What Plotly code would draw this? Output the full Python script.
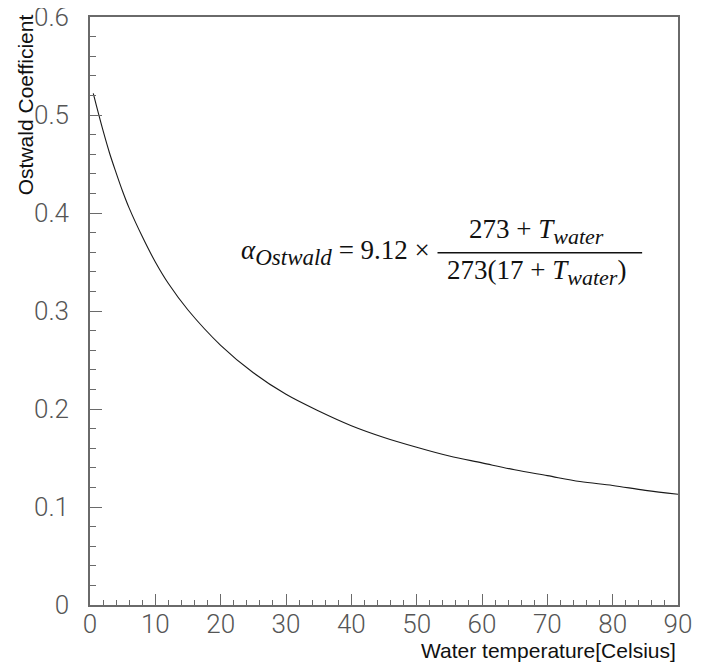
import plotly.graph_objects as go

# Water temperature [Celsius] and Ostwald coefficient
temperature = [0.5, 1, 2, 3, 4, 5, 6, 8, 10, 12, 15, 20, 25, 30, 35, 40, 45,
               50, 55, 60, 65, 70, 75, 80, 85, 90]
ostwald = [0.522, 0.509, 0.484, 0.461, 0.441, 0.422, 0.405, 0.376, 0.350,
           0.328, 0.301, 0.265, 0.237, 0.215, 0.198, 0.183, 0.171, 0.161,
           0.152, 0.145, 0.138, 0.132, 0.126, 0.122, 0.117, 0.113]

x_ticks = [0, 10, 20, 30, 40, 50, 60, 70, 80, 90]
y_ticks = [0, 0.1, 0.2, 0.3, 0.4, 0.5, 0.6]
y_labels = ["0", "0.1", "0.2", "0.3", "0.4", "0.5", "0.6"]

fig = go.Figure()
fig.add_trace(go.Scatter(x=temperature, y=ostwald, mode="lines",
                         line=dict(color="#1a1a1a", width=1.1, shape="spline"),
                         showlegend=False, hoverinfo="skip"))

tickfont = dict(family="Roboto", size=26, color="#555555", weight=300)
axis_common = dict(showline=True, linecolor="#6a6a6a", linewidth=1.5,
                   mirror=True, showgrid=False, zeroline=False,
                   ticks="inside", tickcolor="#6a6a6a", tickwidth=1.2,
                   tickfont=tickfont, automargin=False,
                   ticklabeloverflow="allow")

fig.update_xaxes(range=[0, 90], tickvals=x_ticks, ticklen=11,
                 ticklabelstandoff=-5,
                 minor=dict(dtick=2, ticks="inside", ticklen=5,
                            tickcolor="#6a6a6a", tickwidth=1.2),
                 **axis_common)
fig.update_yaxes(range=[0, 0.6], tickvals=y_ticks, ticktext=y_labels,
                 ticklen=12, ticklabelstandoff=14,
                 minor=dict(dtick=0.02, ticks="inside", ticklen=6,
                            tickcolor="#6a6a6a", tickwidth=1.2),
                 **axis_common)

serif_left = dict(family="Liberation Serif", size=27, color="#111111")
serif_frac = dict(family="Liberation Serif", size=27, color="#111111")
sans_title = dict(family="Liberation Sans", size=21, color="#111111")
sans_xtitle = dict(family="Liberation Sans", size=21, color="#111111")

annotations = [
    dict(text="<i>α</i><sub><i><span style='font-size:23px'>Ostwald</span></i></sub> = 9.12 ×",
         x=0.5816, y=0.600, xref="paper", yref="paper", xanchor="right",
         yanchor="middle", showarrow=False, font=serif_left),
    dict(text="273 + <i>T</i><sub><i><span style='font-size:22px'>water</span></i></sub>",
         x=0.760, y=0.635, xref="paper", yref="paper", xanchor="center",
         yanchor="middle", showarrow=False, font=serif_frac),
    dict(text="273(17 + <i>T</i><sub><i><span style='font-size:22px'>water</span></i></sub>)",
         x=0.760, y=0.566, xref="paper", yref="paper", xanchor="center",
         yanchor="middle", showarrow=False, font=serif_frac),
    dict(text="Ostwald Coefficient", x=-0.1105, y=0.850, xref="paper",
         yref="paper", xanchor="center", yanchor="middle", textangle=-90,
         showarrow=False, font=sans_title),
    dict(text="Water temperature[Celsius]", x=1.0, y=-0.078, xref="paper",
         yref="paper", xanchor="right", yanchor="middle",
         showarrow=False, font=sans_xtitle),
]

# the page body adds an 8 px margin, so the figure is 8 px smaller
fig.update_layout(
    width=696, height=656,
    margin=dict(l=82, r=26, t=9, b=59),
    paper_bgcolor="white", plot_bgcolor="white",
    annotations=annotations,
    shapes=[dict(type="line", xref="paper", yref="paper", x0=0.591, x1=0.939,
                 y0=0.599, y1=0.599, line=dict(color="#111111", width=1.5))],
)

fig.write_html("out.html")
